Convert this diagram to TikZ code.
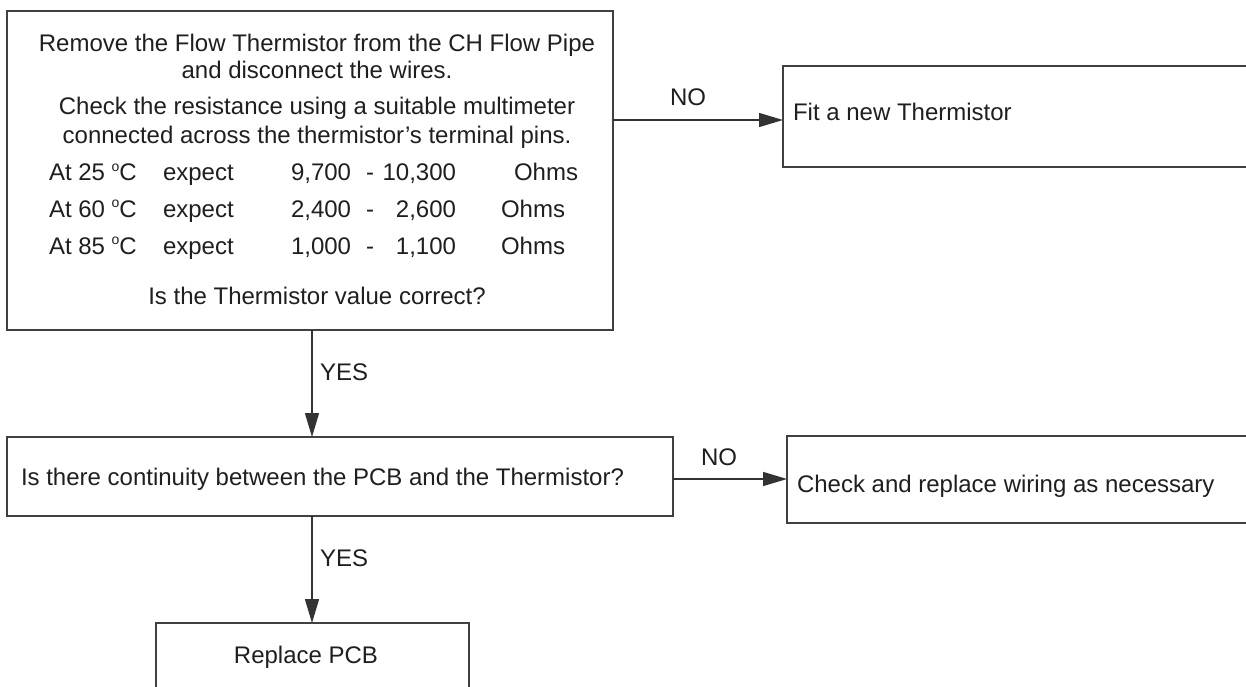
\documentclass[tikz,border=0pt]{standalone}
\usepackage{fontspec}
\setmainfont{Liberation Sans}
\usetikzlibrary{arrows.meta}
\newcommand{\dg}{{\fontsize{14}{14}\selectfont\raisebox{9.5pt}{o}}}
\begin{document}
\begin{tikzpicture}[x=1pt,y=-1pt,
  txt/.style={font=\fontsize{24}{28}\selectfont, text=black!88, inner sep=0pt, outer sep=0pt},
  boxst/.style={draw=black!75, line width=1.3pt, inner sep=0pt, outer sep=0pt, anchor=north west},
  arr/.style={draw=black!80, line width=1.3pt, -{Triangle[length=24pt,width=14pt]}}
]
\clip (0,0) rectangle (1246,687);
\fill[white] (0,0) rectangle (1246,687);

% boxes
\node[boxst, minimum width=606pt, minimum height=319pt] (b1) at (7,11) {};
\node[boxst, minimum width=490pt, minimum height=101pt] (fit) at (783,66) {};
\node[boxst, minimum width=666pt, minimum height=79pt] (b2) at (7,437) {};
\node[boxst, minimum width=480pt, minimum height=87pt] (chk) at (787,436) {};
\node[boxst, minimum width=313pt, minimum height=90pt] (pcb) at (156,623) {};

% texts in box 1
\node[txt, anchor=base] (l1) at (317,52) {Remove the Flow Thermistor from the CH Flow Pipe};
\node[txt, anchor=base] (l2) at (317,79) {and disconnect the wires.};
\node[txt, anchor=base] (l3) at (317,115) {Check the resistance using a suitable multimeter};
\node[txt, anchor=base] (l4) at (317,144) {connected across the thermistor’s terminal pins.};
\node[txt, anchor=base west] (r1a) at (49,181) {At 25 \dg C};
\node[txt, anchor=base west] (r1b) at (163,181) {expect};
\node[txt, anchor=base west] (r1c) at (291,181) {9,700};
\node[txt, anchor=base west] (r1d) at (366,181) {-};
\node[txt, anchor=base east] (r1e) at (456,181) {10,300};
\node[txt, anchor=base west] (r1f) at (514,181) {Ohms};
\node[txt, anchor=base west] (r2a) at (49,217) {At 60 \dg C};
\node[txt, anchor=base west] (r2b) at (163,217) {expect};
\node[txt, anchor=base west] (r2c) at (291,217) {2,400};
\node[txt, anchor=base west] (r2d) at (366,217) {-};
\node[txt, anchor=base east] (r2e) at (456,217) {2,600};
\node[txt, anchor=base west] (r2f) at (501,217) {Ohms};
\node[txt, anchor=base west] (r3a) at (49,254) {At 85 \dg C};
\node[txt, anchor=base west] (r3b) at (163,254) {expect};
\node[txt, anchor=base west] (r3c) at (291,254) {1,000};
\node[txt, anchor=base west] (r3d) at (366,254) {-};
\node[txt, anchor=base east] (r3e) at (456,254) {1,100};
\node[txt, anchor=base west] (r3f) at (501,254) {Ohms};
\node[txt, anchor=base] (l5) at (317,304) {Is the Thermistor value correct?};

% other texts
\node[txt, anchor=base west] (tfit) at (793,121) {Fit a new Thermistor};
\node[txt, anchor=base west] (tb2) at (21,485) {Is there continuity between the PCB and the Thermistor?};
\node[txt, anchor=base west] (tchk) at (797,492) {Check and replace wiring as necessary};
\node[txt, anchor=base] (tpcb) at (306,663) {Replace PCB};

% connectors
\coordinate (ny) at (700,120);
\coordinate (ny2) at (730,479);
\coordinate (vx) at (312,400);
\draw[arr] (b1.east |- ny) -- (fit.west |- ny);
\draw[arr] (b2.east |- ny2) -- (chk.west |- ny2);
\draw[arr] (b1.south -| vx) -- (b2.north -| vx);
\draw[arr] (b2.south -| vx) -- (pcb.north -| vx);

% connector labels
\node[txt, anchor=base] (no1) at (688,106) {NO};
\node[txt, anchor=base] (no2) at (719,465) {NO};
\node[txt, anchor=base west] (yes1) at (320,380) {YES};
\node[txt, anchor=base west] (yes2) at (320,566) {YES};
\end{tikzpicture}
\end{document}
